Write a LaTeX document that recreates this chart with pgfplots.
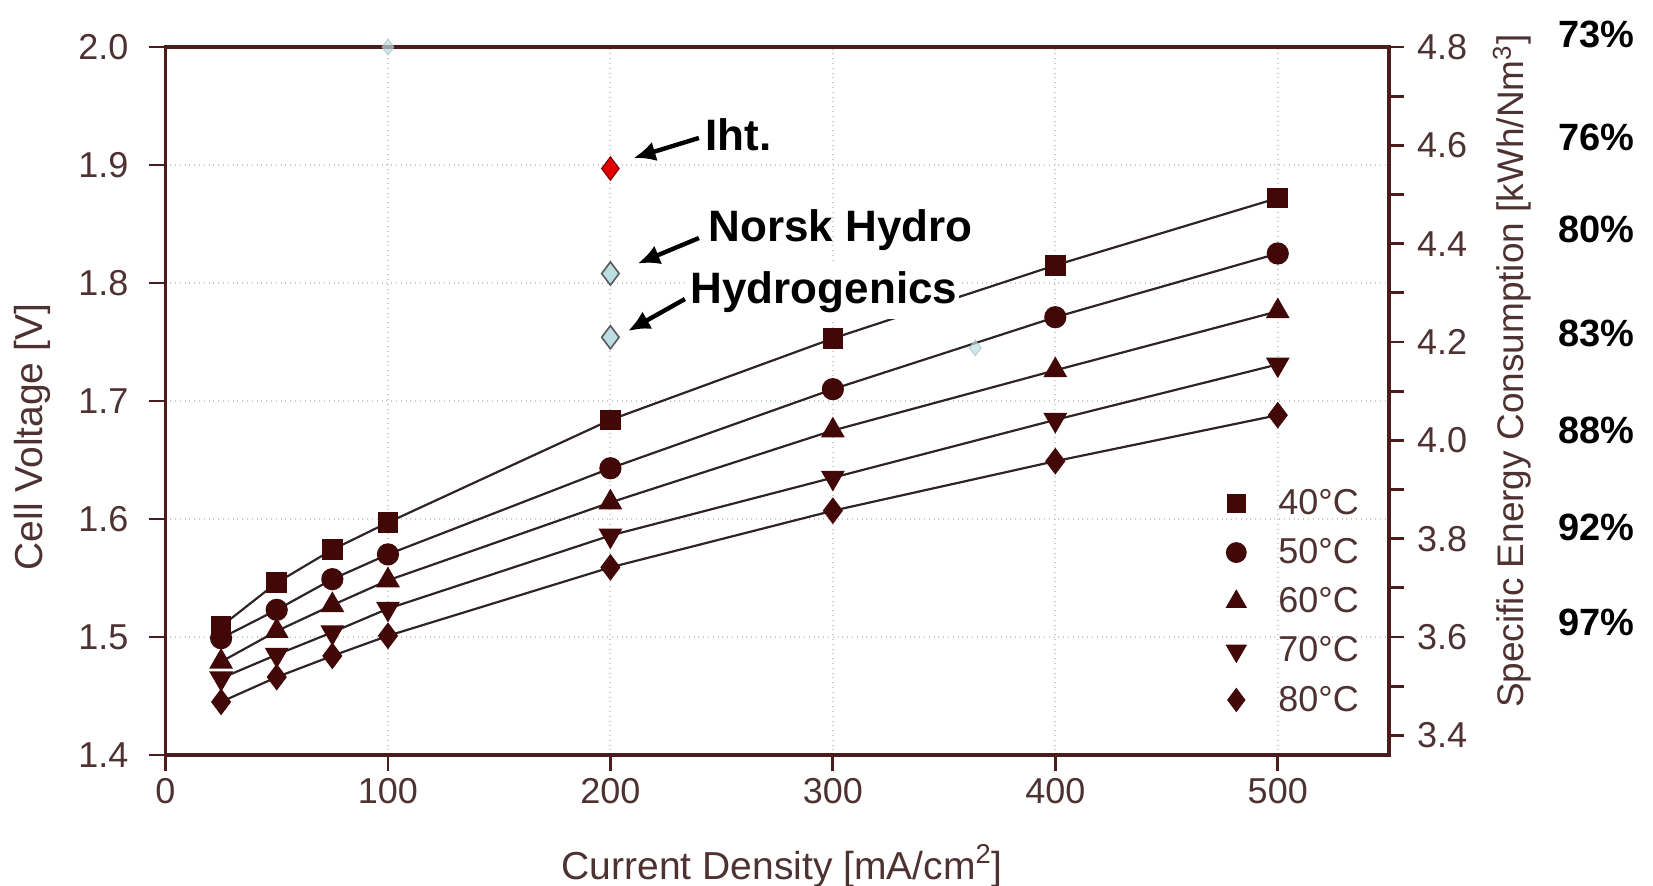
\documentclass[border=0pt]{standalone}
\usepackage{fontspec}
\setmainfont{Liberation Sans}
\usepackage{pgfplots}
\pgfplotsset{compat=1.18}
\usetikzlibrary{arrows.meta}
\definecolor{maroon}{HTML}{420808}
\definecolor{spine}{HTML}{4A1C1C}
\definecolor{ticktext}{HTML}{4E3232}
\definecolor{linec}{HTML}{2E2424}
\definecolor{iht}{HTML}{E00000}
\definecolor{lblue}{HTML}{BCDDE2}
\begin{document}
\begin{tikzpicture}
\begin{axis}[
  name=main,
  scale only axis, width=611.75pt, height=354pt,
  xmin=0, xmax=550, ymin=1.4, ymax=2.0,
  clip=false,
  axis line style={spine, line width=1.6pt},
  xtick={0,100,200,300,400,500},
  ytick={1.4,1.5,1.6,1.7,1.8,1.9,2.0},
  xtick pos=bottom, ytick pos=left,
  tick align=outside, major tick length=8pt,
  tick style={spine, line width=1.4pt},
  grid=major, major grid style={gray!40, dotted, line width=1pt},
  tick label style={font=\fontsize{18}{20}\selectfont, text=ticktext},
  /pgf/number format/assume math mode=true,
  yticklabel style={xshift=-7pt, /pgf/number format/.cd, fixed, fixed zerofill, precision=1},
  legend style={at={(0.867,0.378)}, anchor=north west,
    draw=none, fill=none, inner sep=0pt, outer sep=0pt,
    font=\fontsize{18}{20}\selectfont, text=ticktext,
    row sep=8.5pt, column sep=15pt, nodes={inner sep=1pt}},
  legend cell align=left,
]
% temperature series
\addplot[forget plot, linec, line width=1.1pt, mark=square*, mark size=4.6pt, mark options={fill=maroon, draw=maroon}]
  coordinates {(25,1.509) (50,1.546) (75,1.574) (100,1.597) (200,1.684) (300,1.753) (400,1.815) (500,1.872)};
\addplot[forget plot, linec, line width=1.1pt, mark=*, mark size=5pt, mark options={fill=maroon, draw=maroon}]
  coordinates {(25,1.499) (50,1.523) (75,1.549) (100,1.570) (200,1.643) (300,1.710) (400,1.771) (500,1.825)};
\addplot[forget plot, linec, line width=1.1pt, mark=triangle*, mark size=5.8pt, mark options={fill=maroon, draw=maroon}]
  coordinates {(25,1.479) (50,1.505) (75,1.527) (100,1.548) (200,1.614) (300,1.675) (400,1.726) (500,1.776)};
\addplot[forget plot, linec, line width=1.1pt, mark=triangle*, mark size=5.8pt, mark options={fill=maroon, draw=maroon, rotate=180}]
  coordinates {(25,1.465) (50,1.485) (75,1.504) (100,1.524) (200,1.586) (300,1.635) (400,1.684) (500,1.731)};
\addplot[forget plot, linec, line width=1.1pt, mark=diamond*, mark size=5.8pt, mark options={fill=maroon, draw=maroon}]
  coordinates {(25,1.445) (50,1.466) (75,1.484) (100,1.501) (200,1.559) (300,1.607) (400,1.649) (500,1.688)};
% comparison points
\addplot[forget plot, only marks, mark=diamond*, mark size=5.8pt, mark options={fill=iht, draw=iht!60!black, line width=0.6pt}]
  coordinates {(200,1.897)};
\addplot[forget plot, only marks, mark=diamond*, mark size=5.8pt, mark options={fill=lblue, draw=black!65, line width=0.8pt}]
  coordinates {(200,1.808) (200,1.754)};
\addplot[forget plot, only marks, mark=diamond*, mark size=4pt, mark options={fill=lblue, draw=lblue!60!gray, opacity=0.7}]
  coordinates {(100,2.0) (364,1.745)};
% legend
\addlegendimage{only marks, mark=square*, mark size=4.6pt, mark options={fill=maroon, draw=maroon}}
\addlegendentry{40°C}
\addlegendimage{only marks, mark=*, mark size=5pt, mark options={fill=maroon, draw=maroon}}
\addlegendentry{50°C}
\addlegendimage{only marks, mark=triangle*, mark size=5.8pt, mark options={fill=maroon, draw=maroon}}
\addlegendentry{60°C}
\addlegendimage{only marks, mark=triangle*, mark size=5.8pt, mark options={fill=maroon, draw=maroon, rotate=180}}
\addlegendentry{70°C}
\addlegendimage{only marks, mark=diamond*, mark size=5.8pt, mark options={fill=maroon, draw=maroon}}
\addlegendentry{80°C}
% annotations
\node[anchor=west, font=\fontsize{22}{24}\selectfont\bfseries, inner sep=1pt] at (axis cs:241.6,1.9254) {Iht.};
\node[anchor=west, font=\fontsize{22}{24}\selectfont\bfseries, inner sep=1pt] at (axis cs:243,1.845) {Norsk Hydro};
\node[anchor=west, font=\fontsize{22}{24}\selectfont\bfseries, fill=white, inner xsep=1pt, inner ysep=3pt] at (axis cs:235,1.7924) {Hydrogenics};
\draw[-{Latex[length=11pt,width=10pt]}, line width=2.2pt] (axis cs:239.8,1.9229) -- (axis cs:210.4,1.9059);
\draw[-{Latex[length=11pt,width=10pt]}, line width=2.2pt] (axis cs:239.8,1.8381) -- (axis cs:212.3,1.8165);
\draw[-{Latex[length=11pt,width=10pt]}, line width=2.2pt] (axis cs:233.5,1.7864) -- (axis cs:207.9,1.7593);
% efficiency labels
\node[anchor=west, font=\fontsize{19}{21}\selectfont\bfseries, inner sep=0pt] at (axis cs:626,2.0103) {73\%};
\node[anchor=west, font=\fontsize{19}{21}\selectfont\bfseries, inner sep=0pt] at (axis cs:626,1.9237) {76\%};
\node[anchor=west, font=\fontsize{19}{21}\selectfont\bfseries, inner sep=0pt] at (axis cs:626,1.845) {80\%};
\node[anchor=west, font=\fontsize{19}{21}\selectfont\bfseries, inner sep=0pt] at (axis cs:626,1.7576) {83\%};
\node[anchor=west, font=\fontsize{19}{21}\selectfont\bfseries, inner sep=0pt] at (axis cs:626,1.6754) {88\%};
\node[anchor=west, font=\fontsize{19}{21}\selectfont\bfseries, inner sep=0pt] at (axis cs:626,1.5932) {92\%};
\node[anchor=west, font=\fontsize{19}{21}\selectfont\bfseries, inner sep=0pt] at (axis cs:626,1.5127) {97\%};
% axis labels
\node[rotate=90, font=\fontsize{19.5}{22}\selectfont, text=ticktext] at ([xshift=-66.75pt]rel axis cs:0,0.449) {Cell Voltage [V]};
\node[font=\fontsize{19.5}{22}\selectfont, text=ticktext] at ([yshift=-55.5pt]rel axis cs:0.504,0) {Current Density [mA/cm\textsuperscript{2}]};
\node[rotate=90, font=\fontsize{18.5}{22}\selectfont, text=ticktext] at ([xshift=61.5pt]rel axis cs:1,0.542) {Specific Energy Consumption [kWh/Nm\textsuperscript{3}]};
\end{axis}
\begin{axis}[
  at={(main.south west)}, anchor=south west,
  scale only axis, width=611.75pt, height=354pt,
  xmin=0, xmax=550, ymin=3.36, ymax=4.80,
  axis x line=none, axis y line*=right,
  axis line style={spine, line width=1.6pt},
  ytick={3.4,3.6,3.8,4.0,4.2,4.4,4.6,4.8},
  minor ytick={3.5,3.7,3.9,4.1,4.3,4.5,4.7},
  tick align=outside, major tick length=7.5pt, minor tick length=7.5pt,
  tick style={spine, line width=1.4pt},
  tick label style={font=\fontsize{18}{20}\selectfont, text=ticktext},
  /pgf/number format/assume math mode=true,
  yticklabel style={xshift=3pt, /pgf/number format/.cd, fixed, fixed zerofill, precision=1},
]
\addplot[draw=none] coordinates {(0,4.0)};
\end{axis}
\pgfresetboundingbox
\path[use as bounding box] (main.south west) ++(-82.75pt,-65.5pt) rectangle ++(826.5pt,443pt);
\end{tikzpicture}
\end{document}
